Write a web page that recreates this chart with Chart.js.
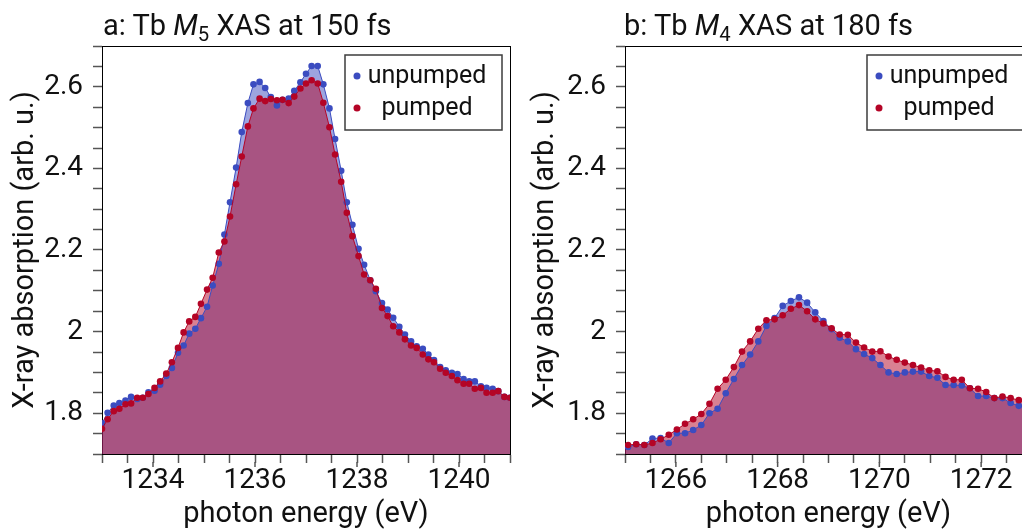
<!DOCTYPE html>
<html>
<head>
<meta charset="UTF-8">
<title>Tb XAS pumped / unpumped</title>
<script src="https://cdn.jsdelivr.net/npm/chart.js@4.4.0/dist/chart.umd.min.js"></script>
<style>
  html, body { margin: 0; padding: 0; background: #fff; overflow: hidden; width: 1022px; height: 532px; }
  canvas { position: absolute; top: 0; }
  #chartA { left: 0; }
  #chartB { left: 520px; }
  .ttl { position: absolute; top: 11px; font-family: Roboto, sans-serif; font-size: 29px; line-height: 29px; color: #111; white-space: nowrap; }
  .ttl sub { font-size: 0.7em; vertical-align: -0.28em; line-height: 0; }
</style>
</head>
<body>
<canvas id="chartA" width="520" height="532"></canvas>
<canvas id="chartB" width="522" height="532"></canvas>
<div class="ttl" style="left:103px">a: Tb <i>M</i><sub>5</sub> XAS at 150 fs</div>
<div class="ttl" style="left:624px">b: Tb <i>M</i><sub>4</sub> XAS at 180 fs</div>

<script>
// ---- data ----
const energyA = [1233.00, 1233.11, 1233.23, 1233.34, 1233.46, 1233.57, 1233.69, 1233.80, 1233.91, 1234.03,
                 1234.14, 1234.26, 1234.37, 1234.49, 1234.60, 1234.71, 1234.83, 1234.94, 1235.06, 1235.17,
                 1235.29, 1235.40, 1235.51, 1235.63, 1235.74, 1235.86, 1235.97, 1236.09, 1236.20, 1236.31,
                 1236.43, 1236.54, 1236.66, 1236.77, 1236.89, 1237.00, 1237.11, 1237.23, 1237.34, 1237.46,
                 1237.57, 1237.69, 1237.80, 1237.91, 1238.03, 1238.14, 1238.26, 1238.37, 1238.49, 1238.60,
                 1238.71, 1238.83, 1238.94, 1239.06, 1239.17, 1239.29, 1239.40, 1239.51, 1239.63, 1239.74,
                 1239.86, 1239.97, 1240.09, 1240.20, 1240.31, 1240.43, 1240.54, 1240.66, 1240.77, 1240.89,
                 1241.00];
const unpumpedA = [1.775, 1.801, 1.819, 1.825, 1.831, 1.840, 1.835, 1.838, 1.851, 1.855,
                   1.870, 1.891, 1.911, 1.948, 1.966, 1.995, 2.007, 2.033, 2.061, 2.113,
                   2.166, 2.238, 2.317, 2.402, 2.489, 2.560, 2.606, 2.612, 2.597, 2.575,
                   2.554, 2.568, 2.571, 2.590, 2.611, 2.632, 2.651, 2.651, 2.606, 2.547,
                   2.472, 2.394, 2.317, 2.262, 2.203, 2.164, 2.126, 2.099, 2.070, 2.054,
                   2.034, 2.012, 1.993, 1.976, 1.964, 1.958, 1.944, 1.930, 1.913, 1.905,
                   1.899, 1.896, 1.884, 1.878, 1.878, 1.866, 1.862, 1.860, 1.854, 1.840,
                   1.838];
const pumpedA = [1.762, 1.785, 1.805, 1.811, 1.822, 1.824, 1.838, 1.838, 1.847, 1.862,
                 1.878, 1.897, 1.925, 1.960, 1.998, 2.025, 2.036, 2.068, 2.103, 2.132,
                 2.194, 2.221, 2.282, 2.361, 2.429, 2.503, 2.547, 2.571, 2.565, 2.570,
                 2.567, 2.568, 2.560, 2.576, 2.596, 2.608, 2.616, 2.608, 2.561, 2.501,
                 2.434, 2.367, 2.291, 2.234, 2.185, 2.140, 2.126, 2.105, 2.058, 2.038,
                 2.013, 1.998, 1.981, 1.966, 1.960, 1.944, 1.932, 1.925, 1.909, 1.899,
                 1.891, 1.881, 1.872, 1.872, 1.860, 1.862, 1.850, 1.850, 1.854, 1.840,
                 1.838];

const energyB = [1264.90, 1265.06, 1265.22, 1265.38, 1265.54, 1265.70, 1265.86, 1266.02, 1266.18, 1266.34, 1266.50,
                 1266.66, 1266.82, 1266.98, 1267.14, 1267.30, 1267.46, 1267.62, 1267.78, 1267.94, 1268.10,
                 1268.26, 1268.42, 1268.58, 1268.74, 1268.90, 1269.06, 1269.22, 1269.38, 1269.54, 1269.70,
                 1269.86, 1270.02, 1270.18, 1270.34, 1270.50, 1270.66, 1270.82, 1270.98, 1271.14, 1271.30,
                 1271.46, 1271.62, 1271.78, 1271.94, 1272.10, 1272.26, 1272.42, 1272.58, 1272.74, 1272.90];
const unpumpedB = [1.716, 1.717, 1.724, 1.722, 1.738, 1.739, 1.727, 1.751, 1.751, 1.759, 1.771,
                   1.800, 1.811, 1.849, 1.884, 1.918, 1.944, 1.976, 2.014, 2.033, 2.063,
                   2.075, 2.084, 2.071, 2.047, 2.026, 2.006, 1.985, 1.976, 1.957, 1.945,
                   1.935, 1.918, 1.900, 1.896, 1.900, 1.902, 1.902, 1.891, 1.887, 1.869,
                   1.869, 1.868, 1.861, 1.842, 1.842, 1.837, 1.837, 1.825, 1.818, 1.815];
const pumpedB = [1.721, 1.722, 1.724, 1.722, 1.727, 1.736, 1.747, 1.760, 1.774, 1.785, 1.798,
                 1.823, 1.860, 1.882, 1.913, 1.951, 1.976, 2.007, 2.028, 2.030, 2.040,
                 2.056, 2.065, 2.050, 2.030, 2.020, 2.008, 1.993, 1.992, 1.973, 1.961,
                 1.951, 1.952, 1.939, 1.931, 1.924, 1.918, 1.912, 1.905, 1.903, 1.889,
                 1.882, 1.882, 1.861, 1.860, 1.852, 1.837, 1.841, 1.837, 1.832, 1.826];

const yLabels = [1.8, 2, 2.2, 2.4, 2.6];
const xLabelsA = [1234, 1236, 1238, 1240];
const xLabelsB = [1266, 1268, 1270, 1272];
const seriesNames = ['unpumped', 'pumped'];

const FONT = 'Roboto, sans-serif';
const BLUE = '#3b4cc0';
const RED = '#b40426';

// top + right spine, and longer ticks at the labelled energies
const framePlugin = {
    id: 'frame',
    afterDraw(chart) {
        const a = chart.chartArea, ctx = chart.ctx;
        const xs = chart.scales.x;
        ctx.save();
        ctx.strokeStyle = '#000';
        ctx.lineWidth = 1;
        ctx.beginPath();
        ctx.moveTo(a.left, Math.round(a.top) + 0.5);
        ctx.lineTo(a.right, Math.round(a.top) + 0.5);
        ctx.moveTo(Math.round(a.right) + 0.5, a.top);
        ctx.lineTo(Math.round(a.right) + 0.5, a.bottom);
        ctx.stroke();
        ctx.strokeStyle = '#555';
        ctx.lineWidth = 1.5;
        ctx.beginPath();
        chart.options.xLabels.forEach(v => {
            const px = xs.getPixelForValue(v);
            ctx.moveTo(px, a.bottom + 8);
            ctx.lineTo(px, a.bottom + 13);
        });
        ctx.stroke();
        ctx.restore();
    }
};

// boxed legend in the upper right corner
const boxLegendPlugin = {
    id: 'boxLegend',
    afterDraw(chart) {
        const a = chart.chartArea, ctx = chart.ctx;
        const w = 157, h = 75;
        const x0 = a.right - 8 - w, y0 = a.top + 9;
        ctx.save();
        ctx.fillStyle = '#fff';
        ctx.fillRect(x0, y0, w, h);
        ctx.strokeStyle = '#3c3c3c';
        ctx.lineWidth = 1.5;
        ctx.strokeRect(x0, y0, w, h);
        const colors = [BLUE, RED];
        seriesNames.forEach((name, i) => {
            const cy = y0 + 21 + i * 32;
            ctx.fillStyle = colors[i];
            ctx.beginPath();
            ctx.arc(x0 + 12, cy, 3.5, 0, Math.PI * 2);
            ctx.fill();
            ctx.fillStyle = '#111';
            ctx.font = '25px ' + FONT;
            ctx.textAlign = 'center';
            ctx.textBaseline = 'alphabetic';
            ctx.fillText(name, x0 + 82, cy + 7);
        });
        ctx.restore();
    }
};

function isOneOf(v, list) {
    return list.find(t => Math.abs(v - t) < 1e-6);
}

function makeChart(id, energy, unpumped, pumped, xmin, xmax, xLabels, yWidth) {
    const pts = ys => energy.map((x, i) => ({ x: x, y: ys[i] }));
    return new Chart(id, {
        type: 'line',
        data: {
            datasets: [{
                label: seriesNames[0],
                data: pts(unpumped),
                borderColor: BLUE,
                backgroundColor: 'rgba(59, 76, 192, 0.5)',
                pointBackgroundColor: BLUE,
                fill: 'start',
                order: 1
            }, {
                label: seriesNames[1],
                data: pts(pumped),
                borderColor: RED,
                backgroundColor: 'rgba(180, 4, 38, 0.5)',
                pointBackgroundColor: RED,
                fill: 'start',
                order: 0
            }]
        },
        plugins: [framePlugin, boxLegendPlugin],
        options: {
            xLabels: xLabels,
            responsive: false,
            animation: false,
            layout: { padding: { top: 46, right: 10, left: 0, bottom: 0 } },
            elements: {
                line: { borderWidth: 1, tension: 0 },
                point: { radius: 3.3, borderWidth: 0, hoverRadius: 3.3 }
            },
            scales: {
                x: {
                    type: 'linear',
                    min: xmin,
                    max: xmax,
                    afterFit: s => { s.height = 78; },
                    ticks: {
                        stepSize: 0.5,
                        autoSkip: false,
                        maxRotation: 0,
                        padding: 1,
                        color: '#111',
                        font: { family: FONT, size: 28 },
                        callback: v => isOneOf(v, xLabels) ? String(v) : ''
                    },
                    grid: { drawOnChartArea: false, tickLength: 9, tickColor: '#555', tickWidth: 1.5 },
                    border: { color: '#000', width: 1 },
                    title: { display: true, text: 'photon energy (eV)', color: '#111',
                             font: { family: FONT, size: 29 }, padding: 0 }
                },
                y: {
                    min: 1.7,
                    max: 2.7,
                    afterFit: s => { s.width = yWidth; },
                    ticks: {
                        stepSize: 0.05,
                        autoSkip: false,
                        padding: 10,
                        color: '#111',
                        font: { family: FONT, size: 28 },
                        callback: v => {
                            const t = isOneOf(v, yLabels);
                            return t !== undefined ? String(t) : '';
                        }
                    },
                    grid: { drawOnChartArea: false, tickLength: 9, tickColor: '#555', tickWidth: 1.5 },
                    border: { color: '#000', width: 1 },
                    title: { display: true, text: 'X-ray absorption (arb. u.)', color: '#111',
                             font: { family: FONT, size: 29 }, padding: { top: 8, bottom: 0 } }
                }
            },
            plugins: {
                filler: { drawTime: 'beforeDatasetsDraw' },
                legend: { display: false },
                tooltip: { enabled: false }
            }
        }
    });
}

makeChart('chartA', energyA, unpumpedA, pumpedA, 1233, 1241, xLabelsA, 102);
makeChart('chartB', energyB, unpumpedB, pumpedB, 1265, 1273, xLabelsB, 105);
</script>
</body>
</html>
